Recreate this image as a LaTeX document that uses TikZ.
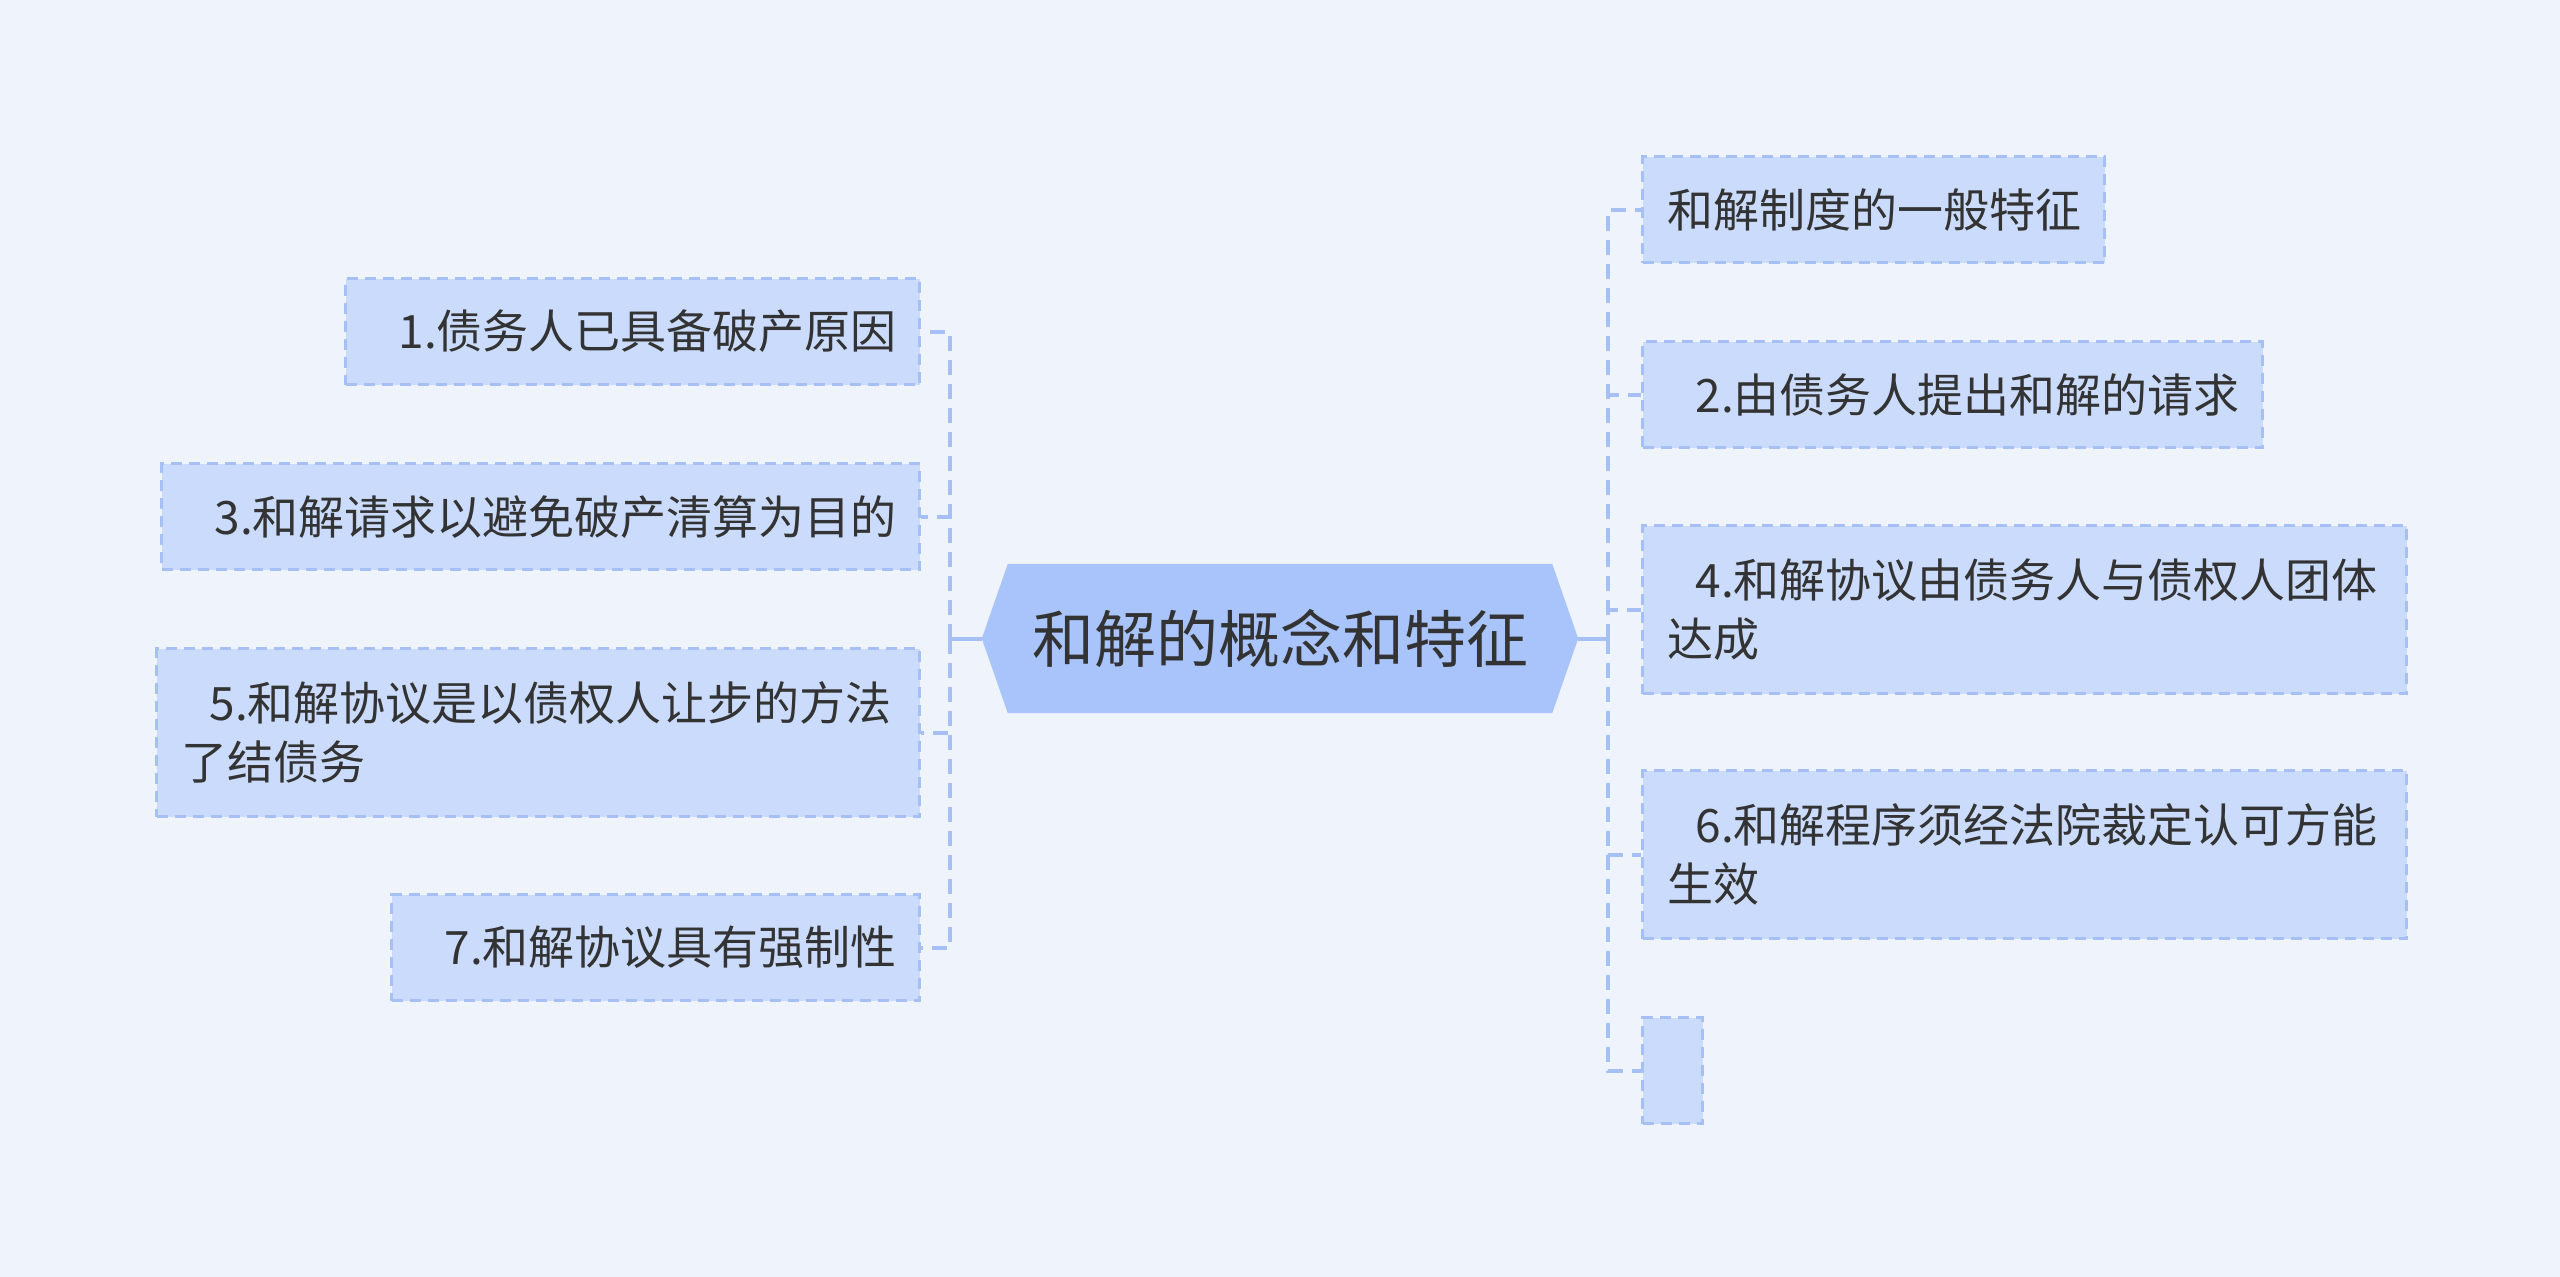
\documentclass[tikz,border=0pt]{standalone}
\usepackage{fontspec}
\newfontfamily\cjk{Noto Sans CJK SC}
\usetikzlibrary{backgrounds}
\definecolor{bgc}{RGB}{239,243,251}
\definecolor{boxfill}{RGB}{202,219,251}
\definecolor{rootfill}{RGB}{168,196,250}
\definecolor{linec}{RGB}{166,191,245}
\definecolor{txt}{RGB}{51,51,51}
\newcommand{\ind}{\hspace*{28pt}}
\begin{document}
\begin{tikzpicture}[x=1pt,y=-1pt,
  leaf/.style={draw=linec, fill=boxfill, dash pattern=on 11pt off 7pt, line width=3.2pt,
    anchor=north west, inner xsep=25pt, inner ysep=0pt, align=left, text=txt,
    font=\cjk\fontsize{46}{59}\selectfont},
  rootnode/.style={inner sep=0pt, minimum width=596pt, minimum height=149pt, text=txt,
    font=\cjk\fontsize{62}{70}\selectfont},
  solidlink/.style={draw=linec, line width=4pt},
  dashlink/.style={draw=linec, line width=4pt, dash pattern=on 15pt off 9pt}]

\useasboundingbox (0,0) rectangle (2560,1277);

% root
\node[rootnode] (root) at (1280,638.5) {和解的概念和特征};

% left children
\node[leaf, text width=524pt, minimum height=106pt] (L1) at (344,277) {\mbox{\ind 1.债务人已具备破产原因}};
\node[leaf, text width=708pt, minimum height=106pt] (L2) at (160,462) {\mbox{\ind 3.和解请求以避免破产清算为目的}};
\node[leaf, text width=713pt, minimum height=168pt] (L3) at (155,647) {\mbox{\ind 5.和解协议是以债权人让步的方法}\\\mbox{了结债务}};
\node[leaf, text width=478pt, minimum height=106pt] (L4) at (390,893) {\mbox{\ind 7.和解协议具有强制性}};

% right children
\node[leaf, text width=412pt, minimum height=106pt] (R1) at (1641,155) {\mbox{和解制度的一般特征}};
\node[leaf, text width=570pt, minimum height=106pt] (R2) at (1641,340) {\mbox{\ind 2.由债务人提出和解的请求}};
\node[leaf, text width=714pt, minimum height=168pt] (R3) at (1641,524) {\mbox{\ind 4.和解协议由债务人与债权人团体}\\\mbox{达成}};
\node[leaf, text width=714pt, minimum height=168pt] (R4) at (1641,769) {\mbox{\ind 6.和解程序须经法院裁定认可方能}\\\mbox{生效}};
\node[leaf, text width=10pt, minimum height=106pt] (R5) at (1641,1016) {};

% spines
\coordinate (lspine) at (950,638.5);
\coordinate (rspine) at (1608,638.5);

\draw[solidlink] (root.west) -- (lspine);
\draw[solidlink] (root.east) -- (rspine);

\foreach \c in {L1,L2,L3,L4}{
  \draw[dashlink] (lspine) |- (\c.east);
}
\foreach \c in {R1,R2,R3,R4,R5}{
  \draw[dashlink] (rspine) |- (\c.west);
}

\begin{pgfonlayer}{background}
  \fill[bgc] (0,0) rectangle (2560,1277);
  \fill[rootfill] (root.west) -- ([xshift=26pt]root.north west) -- ([xshift=-26pt]root.north east)
    -- (root.east) -- ([xshift=-26pt]root.south east) -- ([xshift=26pt]root.south west) -- cycle;
\end{pgfonlayer}
\end{tikzpicture}
\end{document}
